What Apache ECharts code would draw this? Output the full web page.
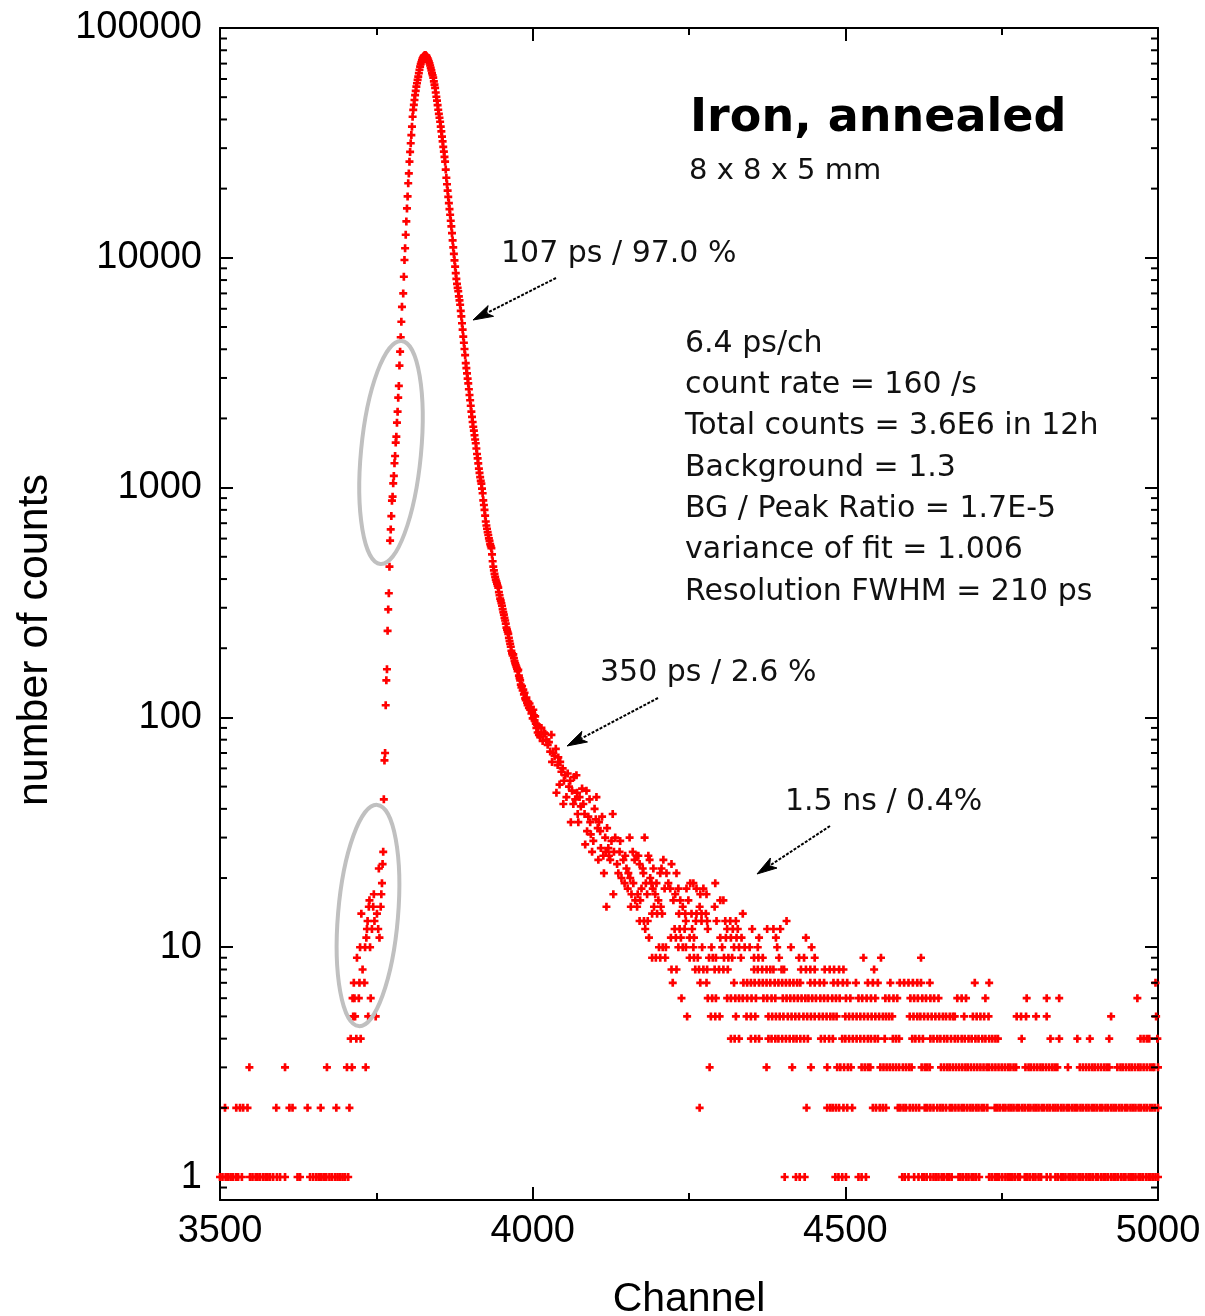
<!DOCTYPE html>
<html>
<head>
<meta charset="utf-8">
<script src="https://cdn.jsdelivr.net/npm/echarts@6/dist/echarts.min.js"></script>
<style>
html,body{margin:0;padding:0;background:#fff;}
#chart{width:1205px;height:1316px;}
</style>
</head>
<body>
<div id="chart"></div>
<script>
// ---------------- axis settings ----------------
const xMin = 3500, xMax = 5000, xStep = 500;
const yMin = 0.7943, yMax = 100000;
const yTickValues = [1, 10, 100, 1000, 10000, 100000];
const minorMultipliers = [2, 3, 4, 5, 6, 7, 8, 9];
const minorDecades = [1, 10, 100, 1000, 10000];

// ---------------- data: [channel, counts] ----------------
// low counts before the prompt peak (lower grey ellipse)
const leadingEdge = [
  [3709,4],[3718,4],[3725,4],
  [3713,5],[3716,5],[3737,5],[3749,5],
  [3712,6],[3715,6],[3722,6],[3741,6],
  [3714,7],[3723,7],[3731,7],
  [3728,8],[3719,9],
  [3724,10],[3732,10],[3740,10],
  [3734,11],[3755,11],
  [3735,12],[3743,12],[3753,12],
  [3736,13],[3747,13],
  [3726,14],[3751,14],
  [3738,15],[3745,15],[3757,15],
  [3739,16],[3746,17],[3758,17],[3759,19],
  [3754,22],[3760,23],[3761,26]
];

// rising edge, peak and main decay
const mainCurve = [
  [3762,44],[3763,65],[3764,70],[3765,113],[3766,145],[3767,162],[3768,238],[3769,295],
  [3770,347],[3771,453],[3772,588],[3773,658],[3774,752],[3775,877],[3776,913],[3777,1044],
  [3778,1124],[3779,1276],[3780,1373],[3781,1570],[3782,1666],[3783,1917],[3784,2140],
  [3785,2463],[3786,2770],[3787,3395],[3788,3905],[3789,4510],[3790,5270],[3791,6120],
  [3793,7000],[3794,8270],[3795,9780],[3796,11000],[3797,12600],[3798,14400],[3799,16400],
  [3800,18500],[3801,21100],[3802,23300],[3803,26200],[3804,28900],[3805,31500],[3806,34200],
  [3807,37200],[3808,41100],[3809,44000],[3810,46300],[3811,48600],[3812,51000],[3813,53300],
  [3814,55600],[3815,57500],[3816,59500],[3817,61400],[3818,63600],[3819,65800],[3820,67900],
  [3821,69600],[3822,71100],[3823,72500],[3824,73700],[3825,74700],[3826,75500],[3827,76000],
  [3828,76300],[3829,76100],[3830,75600],[3831,74800],[3832,73800],[3833,72600],[3834,71400],
  [3835,70200],[3836,68700],[3837,67100],[3838,65400],[3839,63600],[3840,62300],[3841,60800],
  [3842,58600],[3843,56700],[3844,54900],[3845,52400],[3846,50200],[3847,48300],[3848,46200],
  [3849,44100],[3850,42300],[3851,40700],[3852,39100],[3853,37200],[3854,35500],[3855,33700],
  [3856,32100],[3857,30400],[3858,29000],[3859,27500],[3860,26200],[3861,24200],[3862,22300],
  [3863,20900],[3864,19600],[3865,18400],[3866,17300],[3867,16300],[3868,15400],[3869,14500],
  [3870,13700],[3871,12800],[3872,11900],[3873,11100],[3874,10400],[3875,9750],[3876,9150],
  [3877,8580],[3878,8100],[3879,7700],[3880,7400],[3881,7150],[3882,6800],[3883,6530],
  [3884,6250],[3885,5880],[3886,5560],[3887,5190],[3888,4870],[3889,4540],[3890,4270],
  [3891,4010],[3892,3770],[3893,3480],[3894,3310],[3895,3140],[3896,2980],[3897,2840],
  [3898,2680],[3899,2530],[3900,2400],[3901,2270],[3902,2140],[3903,2030],[3904,1930],
  [3905,1840],[3906,1770],[3907,1690],[3908,1620],[3909,1560],[3910,1480],[3911,1400],
  [3912,1340],[3913,1275],[3914,1210],[3915,1160],[3916,1110],[3917,1070],[3918,1040],
  [3919,990],[3920,945],[3921,880],[3922,840],[3923,800],[3924,755],[3925,712],[3926,684],
  [3927,662],[3928,640],[3929,622],[3930,601],[3931,586],[3932,568],[3933,556],[3934,545],
  [3935,512],[3936,478],[3937,453],[3938,436],[3939,421],[3940,409],[3941,398],[3942,390],
  [3943,382],[3944,374],[3945,367],[3946,351],[3947,340],[3948,329],[3949,322],[3950,314],
  [3951,306],[3952,296],[3953,287],[3954,280],[3955,271],[3956,264],[3957,256],[3958,246],
  [3959,241],[3960,236],[3961,231],[3962,222],[3963,215],[3964,209],[3965,203],[3966,195],
  [3967,190],[3968,186],[3969,188],[3970,181],[3971,176],[3972,172],[3973,169],[3974,166],
  [3975,163],[3976,159],[3977,161],[3978,152],[3979,148],[3980,145],[3981,139],[3982,135],
  [3983,137],[3984,131],[3985,132],[3986,126],[3987,128],[3988,121],[3989,119],[3990,122],
  [3991,116],[3992,113],[3993,117],[3994,110],[3995,115],[3996,108],[3997,111],[3998,104],
  [3999,106],[4000,99],[4001,108],[4002,102],[4003,97],[4004,101],[4005,94],[4006,90],
  [4007,93],[4008,86],[4009,91],[4010,84]
];

// noisy part of the slow components (counts above 15)
const tailScatter = [
  [4012,82],[4014,90],[4016,79],[4018,86],[4020,85],[4022,80],[4024,76],[4026,78],[4028,71],
  [4030,84],[4031,64],[4033,70],[4035,68],[4037,73],[4038,47],[4040,62],[4041,67],[4043,51],
  [4044,64],[4046,58],[4048,60],[4049,42],[4050,53],[4052,56],[4054,45],[4056,57],[4058,50],
  [4060,53],[4061,35],[4063,48],[4065,42],[4066,55],[4068,44],[4070,56],[4071,47],[4072,38],
  [4073,35],[4075,45],[4077,41],[4079,49],[4081,42],[4083,38],[4084,28],[4086,48],[4087,32],
  [4089,37],[4091,44],[4092,35],[4093,31],[4095,26],[4097,29],[4099,40],[4101,36],[4102,45],
  [4104,33],[4105,24],[4106,35],[4108,32],[4109,27],[4111,37],[4113,25],[4114,21],[4116,30],
  [4117,26],[4119,33],[4121,27],[4122,25],[4124,24],[4126,29],[4128,38],[4129,17],[4130,26],
  [4132,30],[4135,23],[4137,21],[4139,26],[4140,29],[4142,20],[4145,24],[4147,19],[4148,25],
  [4150,22],[4152,18],[4153,21],[4155,30],[4156,20],[4158,17],[4160,26],[4161,19],[4163,24],
  [4164,16],[4166,25],[4168,17],[4169,25],[4171,23],[4172,16],[4174,18],[4176,22],[4177,21],
  [4179,30],[4181,19],[4183,17],[4185,25],[4187,24],[4188,20],[4190,19],[4192,18],[4193,22],
  [4196,17],[4198,19],[4201,16],[4204,21],[4206,22],[4209,24],[4211,18],[4214,21],[4217,19],
  [4220,18],[4222,23],[4225,16],[4228,17],[4230,21],[4233,18],[4236,16],[4246,18],[4249,16],
  [4252,19],[4257,19],[4262,18],[4268,17],[4273,18],[4278,17],[4292,19],[4300,16],[4305,16]
];

// discrete low-count rows: counts value and the channels that hold it
const rowLevels = [1, 2, 3, 4, 5, 6, 7, 8, 9, 10, 11, 12, 13, 14, 15];
const row1 = [3500,3504,3509,3513,3517,3521,3526,3529,3535,3548,3552,3557,3560,3564,3569,3573,3576,3580,3585,3591,3596,3604,3624,3628,3644,3649,3654,3658,3662,3666,3670,3675,3679,3684,3688,3692,3696,3700,3705,
  4403,4421,4427,4435,4484,4489,4495,4501,4521,4526,4533,4591,4595,4601,4610,4617,4623,4626,4630,4636,4641,4645,4649,4654,4658,4663,4666,4670,4681,4684,4688,4693,4697,4702,4705,4709,4714,4730,4734,4739,4743,4746,4751,4756,4760,4763,4767,4771,4776,4779,4787,4791,4795,4800,4804,4809,4813,4822,4828,4836,4840,4845,4848,4852,4857,4860,4864,4868,4873,4876,4880,4885,4889,4892,4896,4901,4904,4909,4913,4916,4920,4925,4929,4932,4936,4941,4945,4948,4953,4957,4960,4964,4969,4972,4976,4981,4985,4988,4992,4996,5000];
const row2 = [3508,3526,3532,3537,3544,3590,3611,3616,3640,3661,3686,3707,
  4267,4438,4471,4476,4480,4485,4490,4497,4503,4511,4544,4549,4555,4560,4565,4584,4588,4593,4597,4603,4608,4613,4618,4627,4631,4636,4641,4647,4652,4656,4661,4667,4671,4676,4681,4686,4690,4695,4700,4704,4709,4713,4718,4722,4727,4739,4743,4747,4752,4756,4761,4765,4769,4774,4778,4783,4787,4792,4796,4801,4805,4809,4814,4818,4823,4827,4832,4836,4840,4845,4849,4854,4858,4863,4867,4871,4876,4880,4885,4889,4894,4898,4902,4907,4911,4916,4920,4925,4929,4933,4938,4942,4947,4951,4956,4960,4964,4969,4973,4978,4982,4987,4991,4995,5000];
const row3 = [3547,3604,3671,3703,3711,3733,
  4283,4374,4415,4445,4471,4487,4492,4498,4504,4509,4526,4531,4536,4540,4556,4561,4566,4571,4576,4581,4586,4592,4597,4602,4606,4622,4627,4631,4635,4653,4658,4663,4667,4672,4677,4682,4687,4692,4696,4701,4706,4711,4716,4721,4726,4730,4735,4740,4745,4750,4755,4760,4764,4769,4773,4788,4793,4797,4802,4807,4812,4816,4821,4826,4831,4835,4839,4856,4875,4880,4885,4890,4895,4899,4904,4909,4914,4918,4922,4935,4940,4944,4949,4954,4958,4963,4968,4972,4977,4982,4987,4991,4994,5000];
const row4 = [4317,4323,4330,4349,4356,4362,4377,4382,4388,4393,4399,4405,4411,4417,4422,4428,4434,4440,4461,4467,4474,4480,4495,4500,4506,4512,4518,4524,4530,4536,4541,4547,4552,4563,4576,4581,4586,4607,4612,4618,4624,4636,4641,4647,4652,4658,4663,4669,4675,4680,4686,4691,4697,4702,4708,4713,4719,4724,4730,4735,4740,4744,4782,4828,4842,4871,4891,4922,4972,4977,4982,4986,4999];
const row5 = [4247,4285,4292,4299,4325,4342,4349,4356,4377,4383,4389,4395,4401,4408,4414,4420,4426,4433,4439,4445,4451,4458,4464,4470,4476,4481,4486,4500,4506,4512,4518,4524,4530,4536,4542,4548,4554,4560,4565,4570,4575,4603,4609,4615,4620,4626,4632,4638,4644,4650,4656,4661,4667,4672,4675,4690,4704,4710,4716,4722,4729,4774,4781,4789,4805,4822,4925,4997];
const row6 = [4238,4280,4287,4293,4311,4317,4324,4330,4336,4343,4350,4357,4369,4375,4382,4388,4400,4406,4412,4418,4424,4430,4436,4441,4447,4453,4460,4466,4472,4479,4485,4491,4501,4508,4521,4527,4534,4541,4548,4564,4570,4577,4583,4604,4610,4616,4623,4629,4636,4642,4649,4679,4686,4693,4724,4790,4822,4842,4967];
const row7 = [4224,4268,4278,4322,4337,4343,4349,4355,4362,4368,4374,4380,4387,4393,4399,4405,4411,4417,4423,4428,4444,4451,4459,4466,4481,4488,4496,4503,4517,4536,4544,4552,4572,4587,4594,4601,4608,4615,4621,4635,4707,4730,4996];
const row8 = [4222,4230,4260,4266,4273,4279,4291,4298,4305,4312,4354,4360,4367,4374,4380,4385,4398,4402,4429,4437,4444,4451,4467,4475,4482,4490,4497,4546];
const row9 = [4191,4197,4204,4212,4251,4258,4264,4282,4288,4293,4306,4313,4319,4333,4354,4361,4368,4394,4426,4434,4451,4529,4557,4621];
const row10 = [4202,4208,4213,4233,4240,4245,4257,4271,4286,4303,4322,4330,4339,4347,4360,4391,4413,4446];
const row11 = [4186,4221,4229,4237,4251,4258,4300,4309,4317,4326,4334,4362,4389,4437];
const row12 = [4180,4227,4235,4243,4255,4280,4311,4320,4328,4351,4375,4385,4396];
const row13 = [4171,4178,4184,4245,4261,4270,4279,4294,4308,4316,4325,4406];
const row14 = [4191,4199,4207,4234,4244,4254,4262,4270,4277,4336];
const row15 = [4118,4157,4167,4194,4205,4240,4267,4291];

// ---------------- texts ----------------
const titleText = 'Iron, annealed';
const sizeText = '8 x 8 x 5 mm';
const paramLines = ['6.4 ps/ch', 'count rate = 160 /s', 'Total counts = 3.6E6 in 12h',
  'Background = 1.3', 'BG / Peak Ratio = 1.7E-5', 'variance of fit = 1.006', 'Resolution FWHM = 210 ps'];
const componentLabels = ['107 ps / 97.0 %', '350 ps / 2.6 %', '1.5 ns / 0.4%'];

// ---------------- build ----------------
const rows = [row1,row2,row3,row4,row5,row6,row7,row8,row9,row10,row11,row12,row13,row14,row15];
const points = [].concat(leadingEdge, mainCurve, tailScatter);
rows.forEach((r, i) => r.forEach(ch => points.push([ch, rowLevels[i]])));

const minorVals = [0.9];
minorDecades.forEach(d => minorMultipliers.forEach(m => minorVals.push(d * m)));

const FONT = '"Liberation Sans", Arial, sans-serif';
const ANN = '"DejaVu Sans", "Liberation Sans", sans-serif';
const plusPath = 'path://M3 0H6V3H9V6H6V9H3V6H0V3H3Z';

function isPow10(v) {
  return yTickValues.some(t => Math.abs(t - v) / t < 1e-6);
}

const xAxisBase = {
  type: 'value', min: xMin, max: xMax, interval: xStep,
  axisLine: { show: true, onZero: false, lineStyle: { color: '#000', width: 2 } },
  axisTick: { show: true, inside: true, length: 13, lineStyle: { color: '#000', width: 2 } },
  minorTick: { show: true, splitNumber: 2, length: 7, lineStyle: { color: '#000', width: 2 } },
  splitLine: { show: false }, minorSplitLine: { show: false }
};
const yAxisBase = {
  type: 'log', logBase: 10, min: yMin, max: yMax,
  axisLine: { show: true, onZero: false, lineStyle: { color: '#000', width: 2 } },
  axisTick: { show: true, inside: true, length: 13, lineStyle: { color: '#000', width: 2 } },
  splitLine: { show: false }
};

function arrow(tail, tip) {
  const dx = tip[0] - tail[0], dy = tip[1] - tail[1];
  const len = Math.sqrt(dx * dx + dy * dy);
  const ux = dx / len, uy = dy / len;
  const hl = 20, hw = 6;
  const bx = tip[0] - ux * hl, by = tip[1] - uy * hl;
  return [
    { type: 'line', z: 50, shape: { x1: tail[0], y1: tail[1], x2: bx + ux * 4, y2: by + uy * 4 },
      style: { stroke: '#000', lineWidth: 2, lineDash: [3, 1.5] } },
    { type: 'polygon', z: 50, shape: { points: [tip, [bx - uy * hw, by + ux * hw], [tip[0] - ux * (hl - 5), tip[1] - uy * (hl - 5)], [bx + uy * hw, by - ux * hw]] },
      style: { fill: '#000', stroke: '#000', lineWidth: 1 } }
  ];
}

const graphics = [];
graphics.push({ type: 'text', x: 690, y: 119, z: 50,
  style: { text: titleText, font: 'bold 46px ' + ANN, fill: '#000', align: 'left', verticalAlign: 'middle' } });
graphics.push({ type: 'text', x: 689, y: 171, z: 50,
  style: { text: sizeText, font: '29px ' + ANN, fill: '#111', align: 'left', verticalAlign: 'middle' } });
paramLines.forEach((t, i) => {
  graphics.push({ type: 'text', x: 685, y: 344 + i * 41.3, z: 50,
    style: { text: t, font: '30px ' + ANN, fill: '#111', align: 'left', verticalAlign: 'middle' } });
});
const compPos = [[501, 254], [600, 673], [785, 802]];
componentLabels.forEach((t, i) => {
  graphics.push({ type: 'text', x: compPos[i][0], y: compPos[i][1], z: 50,
    style: { text: t, font: '30px ' + ANN, fill: '#111', align: 'left', verticalAlign: 'middle' } });
});
[[[556, 278], [473, 320]], [[658, 698], [567, 746]], [[830, 826], [757, 874]]].forEach(a => {
  arrow(a[0], a[1]).forEach(g => graphics.push(g));
});
graphics.push({ type: 'ellipse', x: 391, y: 452.5, rotation: -0.095, z: 40,
  shape: { cx: 0, cy: 0, rx: 30, ry: 112 }, style: { fill: 'none', stroke: '#c0c0c0', lineWidth: 4 } });
graphics.push({ type: 'ellipse', x: 368, y: 915.5, rotation: -0.084, z: 40,
  shape: { cx: 0, cy: 0, rx: 30, ry: 111 }, style: { fill: 'none', stroke: '#c0c0c0', lineWidth: 4 } });
graphics.push({ type: 'text', x: 35, y: 640, rotation: Math.PI / 2, z: 50,
  style: { text: 'number of counts', font: '43px ' + FONT, fill: '#000', align: 'center', verticalAlign: 'middle' } });
graphics.push({ type: 'text', x: 689, y: 1300, z: 50,
  style: { text: 'Channel', font: '41px ' + FONT, fill: '#000', align: 'center', verticalAlign: 'middle' } });

const chart = echarts.init(document.getElementById('chart'));
chart.setOption({
  animation: false,
  backgroundColor: '#fff',
  grid: { left: 220, right: 47, top: 28, bottom: 116, containLabel: false, outerBoundsMode: 'none' },
  xAxis: [
    Object.assign({}, xAxisBase, { position: 'bottom',
      axisLabel: { show: true, fontSize: 38, fontFamily: FONT, color: '#000', margin: 13,
        formatter: v => String(Math.round(v)) } }),
    Object.assign({}, xAxisBase, { position: 'top', axisLabel: { show: false } })
  ],
  yAxis: [
    Object.assign({}, yAxisBase, { position: 'left',
      axisLabel: { show: true, fontSize: 38, fontFamily: FONT, color: '#000', margin: 18,
        showMinLabel: true,
        formatter: v => isPow10(v) ? String(Math.round(v)) : '' } }),
    Object.assign({}, yAxisBase, { position: 'right', axisLabel: { show: false } })
  ],
  series: [
    {
      type: 'scatter', xAxisIndex: 0, yAxisIndex: 0,
      symbol: plusPath, symbolSize: 8,
      itemStyle: { color: '#ff0000', opacity: 1 },
      data: points, silent: true, z: 10
    },
    {
      type: 'custom', xAxisIndex: 0, yAxisIndex: 0, silent: true, z: 20, clip: false,
      data: minorVals.map(v => [xMin, v]),
      renderItem: (params, api) => {
        const v = api.value(1);
        const l = api.coord([xMin, v]);
        const r = api.coord([xMax, v]);
        return { type: 'group', children: [
          { type: 'line', shape: { x1: l[0], y1: l[1], x2: l[0] + 7, y2: l[1] }, style: { stroke: '#000', lineWidth: 2 } },
          { type: 'line', shape: { x1: r[0], y1: r[1], x2: r[0] - 7, y2: r[1] }, style: { stroke: '#000', lineWidth: 2 } }
        ] };
      }
    }
  ],
  graphic: graphics
});
</script>
</body>
</html>
